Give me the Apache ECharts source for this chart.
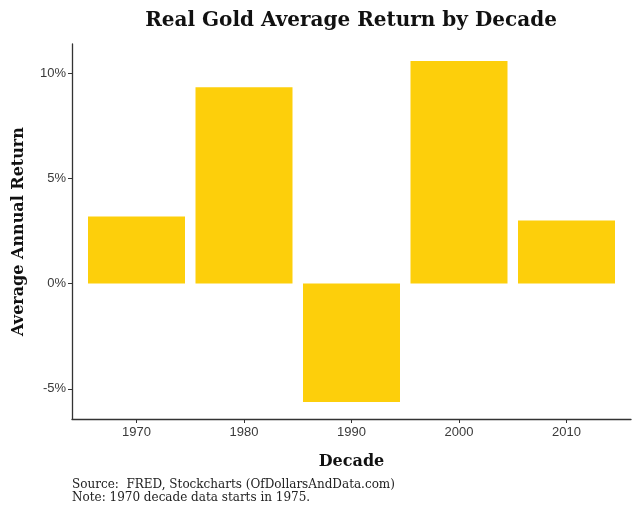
<!DOCTYPE html>
<html><head><meta charset="utf-8">
<script src="https://cdn.jsdelivr.net/npm/echarts@6/dist/echarts.min.js"></script>
<style>html,body{margin:0;padding:0;background:#fff}#c{width:640px;height:512px}</style>
</head><body><div id="c"></div>
<script>
var categories = ['1970', '1980', '1990', '2000', '2010'];
var returns = [3.19, 9.33, -5.62, 10.57, 3.0];
var yTicks = [-5, 0, 5, 10];

var positions = categories.map(function (c, i) { return i + 1; });
var chart = echarts.init(document.getElementById('c'), null, {renderer: 'canvas'});
var serif = '"DejaVu Serif", "Liberation Serif", serif';
var sans = '"Liberation Sans", Arial, sans-serif';
chart.setOption({
  animation: false,
  title: [{
    text: 'Real Gold Average Return by Decade',
    left: 346, top: 6, textAlign: 'center',
    textStyle: {fontFamily: serif, fontWeight: 'bold', fontSize: 20, color: '#111'}
  }, {
    text: 'Source:  FRED, Stockcharts (OfDollarsAndData.com)\nNote: 1970 decade data starts in 1975.',
    left: 67, top: 473,
    textStyle: {fontFamily: serif, fontWeight: 'normal', fontSize: 12, color: '#222', lineHeight: 13}
  }],
  grid: {left: 72, right: 9, top: 44, bottom: 93, containLabel: false, outerBoundsMode: 'none'},
  xAxis: {
    type: 'value', min: 0.4, max: 5.6,
    name: 'Decade', nameLocation: 'middle', nameGap: 35,
    nameTextStyle: {fontFamily: serif, fontWeight: 'bold', fontSize: 16, color: '#111'},
    axisLine: {show: true, onZero: false, lineStyle: {color: '#333', width: 1.3}},
    axisTick: {show: true, length: 4, lineStyle: {color: '#333'}, customValues: positions},
    axisLabel: {customValues: positions, color: '#3a3a3a', fontFamily: sans, fontSize: 13, margin: 7,
      formatter: function (v) { return categories[Math.round(v) - 1]; }},
    splitLine: {show: false}
  },
  yAxis: {
    type: 'value', min: -6.43, max: 11.38,
    name: 'Average Annual Return', nameLocation: 'middle', nameGap: 45,
    nameTextStyle: {fontFamily: serif, fontWeight: 'bold', fontSize: 16, color: '#111'},
    axisLine: {show: true, onZero: false, lineStyle: {color: '#333', width: 1.3}},
    axisTick: {show: true, length: 4, lineStyle: {color: '#333'}, customValues: yTicks},
    axisLabel: {customValues: yTicks, color: '#3a3a3a', fontFamily: sans, fontSize: 13, margin: 6,
      formatter: function (v) { return v + '%'; }},
    splitLine: {show: false}
  },
  series: [{
    type: 'bar',
    data: positions.map(function (p, i) { return [p, returns[i]]; }),
    barWidth: 97,
    itemStyle: {color: '#FDCF0B'}
  }]
});
</script></body></html>
